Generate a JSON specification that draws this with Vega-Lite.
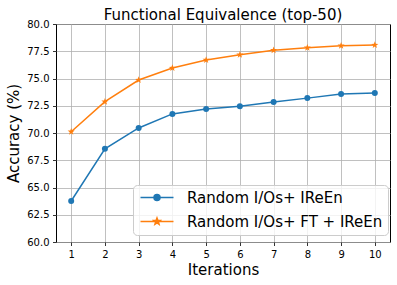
{
  "$schema": "https://vega.github.io/schema/vega-lite/v6.json",
  "width": 334,
  "height": 218,
  "autosize": "none",
  "padding": {"left": 56, "top": 24, "right": 7, "bottom": 43},
  "background": "white",
  "config": {
    "font": "DejaVu Sans",
    "view": {"stroke": "black", "strokeWidth": 1},
    "axis": {
      "domain": false,
      "grid": true,
      "gridColor": "#b0b0b0",
      "gridWidth": 0.8,
      "ticks": true,
      "tickColor": "black",
      "tickSize": 3.5,
      "tickWidth": 0.8,
      "labelFont": "DejaVu Sans",
      "labelFontSize": 10,
      "labelColor": "black",
      "labelPadding": 3.5,
      "titleFont": "DejaVu Sans",
      "titleFontSize": 15,
      "titleFontWeight": "normal",
      "titleColor": "black"
    },
    "title": {"font": "DejaVu Sans", "fontSize": 15, "fontWeight": "normal", "color": "black", "offset": -4}
  },
  "title": "Functional Equivalence (top-50)",
  "data": {
    "values": [
      {"iter": 1, "acc": 63.76, "series": "Random I/Os+ IReEn"},
      {"iter": 2, "acc": 68.55, "series": "Random I/Os+ IReEn"},
      {"iter": 3, "acc": 70.46, "series": "Random I/Os+ IReEn"},
      {"iter": 4, "acc": 71.75, "series": "Random I/Os+ IReEn"},
      {"iter": 5, "acc": 72.2, "series": "Random I/Os+ IReEn"},
      {"iter": 6, "acc": 72.46, "series": "Random I/Os+ IReEn"},
      {"iter": 7, "acc": 72.84, "series": "Random I/Os+ IReEn"},
      {"iter": 8, "acc": 73.2, "series": "Random I/Os+ IReEn"},
      {"iter": 9, "acc": 73.58, "series": "Random I/Os+ IReEn"},
      {"iter": 10, "acc": 73.67, "series": "Random I/Os+ IReEn"},
      {"iter": 1, "acc": 70.12, "series": "Random I/Os+ FT + IReEn"},
      {"iter": 2, "acc": 72.87, "series": "Random I/Os+ FT + IReEn"},
      {"iter": 3, "acc": 74.86, "series": "Random I/Os+ FT + IReEn"},
      {"iter": 4, "acc": 75.96, "series": "Random I/Os+ FT + IReEn"},
      {"iter": 5, "acc": 76.7, "series": "Random I/Os+ FT + IReEn"},
      {"iter": 6, "acc": 77.18, "series": "Random I/Os+ FT + IReEn"},
      {"iter": 7, "acc": 77.59, "series": "Random I/Os+ FT + IReEn"},
      {"iter": 8, "acc": 77.83, "series": "Random I/Os+ FT + IReEn"},
      {"iter": 9, "acc": 78.01, "series": "Random I/Os+ FT + IReEn"},
      {"iter": 10, "acc": 78.07, "series": "Random I/Os+ FT + IReEn"}
    ]
  },
  "encoding": {
    "x": {
      "field": "iter", "type": "quantitative", "title": "Iterations",
      "scale": {"domain": [0.55, 10.45], "nice": false, "zero": false},
      "axis": {"values": [1, 2, 3, 4, 5, 6, 7, 8, 9, 10], "format": "d", "titlePadding": 3}
    },
    "y": {
      "field": "acc", "type": "quantitative", "title": "Accuracy (%)",
      "scale": {"domain": [60, 80], "nice": false, "zero": false},
      "axis": {"values": [60, 62.5, 65, 67.5, 70, 72.5, 75, 77.5, 80], "format": ".1f", "titlePadding": 5}
    }
  },
  "layer": [
    {
      "mark": {"type": "point", "filled": true, "size": 0},
      "encoding": {
        "color": {
          "field": "series", "type": "nominal",
          "scale": {"domain": ["Random I/Os+ IReEn", "Random I/Os+ FT + IReEn"], "range": ["#1f77b4", "#ff7f0e"]},
          "legend": {
            "title": null, "orient": "none", "legendX": 77, "legendY": 161,
            "fillColor": "rgba(255,255,255,0.8)", "strokeColor": "#cccccc", "cornerRadius": 4,
            "padding": 5, "labelFontSize": 15, "labelFont": "DejaVu Sans", "labelColor": "black",
            "labelLimit": 400,
            "labelOffset": 34, "symbolSize": 100, "symbolStrokeWidth": 1.5, "symbolOpacity": 1,
            "rowPadding": 8
          }
        },
        "shape": {
          "field": "series", "type": "nominal",
          "scale": {"domain": ["Random I/Os+ IReEn", "Random I/Os+ FT + IReEn"],
            "range": [
              "M-1,0L5.6,0M2.9,0A0.6,0.6,0,1,1,1.7,0A0.6,0.6,0,1,1,2.9,0Z",
              "M-1,0L5.6,0M2.3,-0.7L2.47,-0.24L2.96,-0.22L2.58,0.09L2.71,0.56L2.3,0.29L1.89,0.56L2.02,0.09L1.64,-0.22L2.13,-0.24Z"
            ]}
        }
      }
    },
    {
      "mark": {"type": "line", "strokeWidth": 1.5},
      "encoding": {
        "color": {"field": "series", "type": "nominal"}
      }
    },
    {
      "transform": [{"filter": "datum.series === 'Random I/Os+ IReEn'"}],
      "mark": {"type": "point", "filled": true, "opacity": 1, "shape": "circle", "size": 36},
      "encoding": {
        "color": {"field": "series", "type": "nominal"}
      }
    },
    {
      "transform": [{"filter": "datum.series === 'Random I/Os+ FT + IReEn'"}],
      "mark": {"type": "point", "filled": true, "opacity": 1, "size": 55,
        "shape": "M0,-1L0.235,-0.324L0.951,-0.309L0.380,0.124L0.588,0.809L0,0.4L-0.588,0.809L-0.380,0.124L-0.951,-0.309L-0.235,-0.324Z"},
      "encoding": {
        "color": {"field": "series", "type": "nominal"}
      }
    }
  ]
}
